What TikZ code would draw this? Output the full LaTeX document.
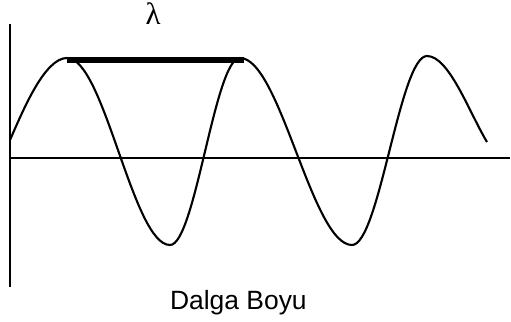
\documentclass[tikz,border=0pt]{standalone}
\usepackage{fontspec}
\setmainfont{Liberation Sans}
\newfontfamily\greekfont{Liberation Serif}
\usepackage{xcolor}
\definecolor{waveink}{HTML}{000000}

\begin{document}
\begin{tikzpicture}[
  x=1cm,
  y=1cm,
  every node/.style={font=\fontsize{18.8}{22}\selectfont, inner sep=0pt}
]
  \useasboundingbox (-0.25,-4.1) rectangle (12.525,3.95);

  \draw[waveink, line width=1pt] (0,3.35) -- (0,-3.225);
  \draw[waveink, line width=1pt] (0,0) -- (12.5,0);

  \draw[waveink, line width=1.5pt] (0,0.45)
    .. controls +(0.35,0.8) and +(-0.55,0) .. (1.425,2.5)
    .. controls +(0.93,0) and +(-0.93,0) .. (4,-2.175)
    .. controls +(0.63,0) and +(-0.63,0) .. (5.75,2.5)
    .. controls +(1,0) and +(-1,0) .. (8.55,-2.175)
    .. controls +(0.68,0) and +(-0.68,0) .. (10.425,2.55)
    .. controls +(0.55,0) and +(-0.45,0.75) .. (11.925,0.4);

  \draw[waveink, line width=4.2pt] (1.425,2.46) -- (5.85,2.46);

  \node[waveink, anchor=base] (lambda) at (3.575,3.325)
    {\greekfont\fontsize{22}{24}\selectfont λ};
  \node[waveink, anchor=base] (caption) at (5.71,-3.8) {Dalga Boyu};
\end{tikzpicture}
\end{document}
